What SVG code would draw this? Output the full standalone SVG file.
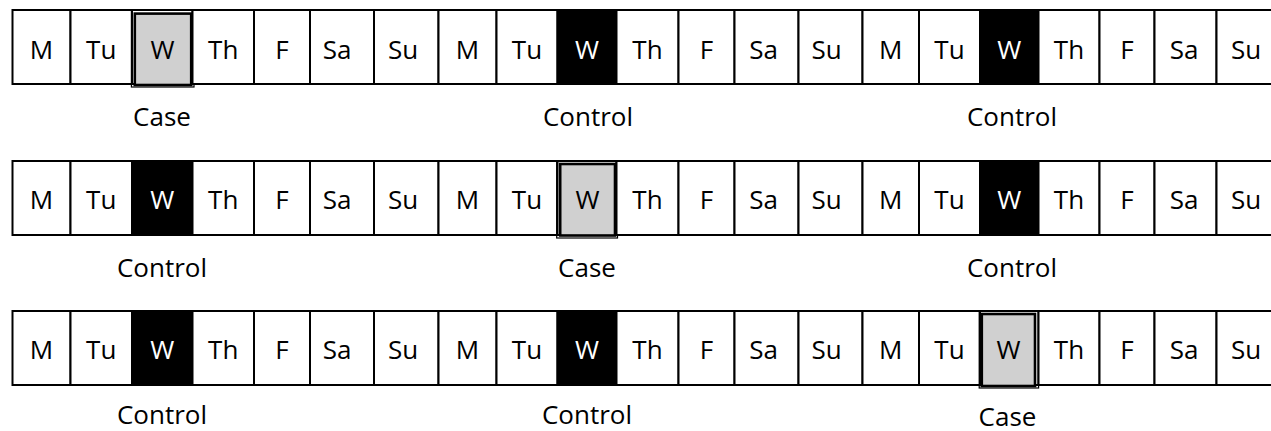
<svg xmlns="http://www.w3.org/2000/svg" width="1271" height="431" viewBox="0 0 1271 431">
<style>
.c{fill:#fff;stroke:#000;stroke-width:2}
.k{fill:#000;stroke:#000;stroke-width:2}
.co{fill:none;stroke:#000;stroke-width:1.2}
.ci{fill:#d0d0d0;stroke:#000;stroke-width:2.6}
text{font-family:"Open Sans","Liberation Sans",sans-serif;font-size:26px;text-anchor:middle;fill:#000}
text.w{fill:#fff}
</style>
<rect width="1271" height="431" fill="#fff"/>
<g id="row1">
<g id="r1c0"><rect class="c" x="12.5" y="10" width="58" height="74"/><text x="41.5" y="58.5">M</text></g>
<g id="r1c1"><rect class="c" x="70.5" y="10" width="61.5" height="74"/><text x="101.25" y="58.5">Tu</text></g>
<g id="r1c2"><rect class="c" x="132" y="10" width="60.5" height="74"/><rect class="co" x="131.4" y="10" width="62.6" height="77"/><rect class="ci" x="134.8" y="13.6" width="56.4" height="71.4"/><text x="162.5" y="58.5">W</text></g>
<g id="r1c3"><rect class="c" x="192.5" y="10" width="61.5" height="74"/><text x="223.25" y="58.5">Th</text></g>
<g id="r1c4"><rect class="c" x="254" y="10" width="56" height="74"/><text x="282" y="58.5">F</text></g>
<g id="r1c5"><rect class="c" x="310" y="10" width="64" height="74"/><text x="337" y="58.5">Sa</text></g>
<g id="r1c6"><rect class="c" x="374" y="10" width="64.5" height="74"/><text x="403" y="58.5">Su</text></g>
<g id="r1c7"><rect class="c" x="438.5" y="10" width="58" height="74"/><text x="467.5" y="58.5">M</text></g>
<g id="r1c8"><rect class="c" x="496.5" y="10" width="61" height="74"/><text x="527" y="58.5">Tu</text></g>
<g id="r1c9"><rect class="k" x="557.5" y="10" width="59" height="74"/><text class="w" x="587" y="58.5">W</text></g>
<g id="r1c10"><rect class="c" x="616.5" y="10" width="62" height="74"/><text x="647.5" y="58.5">Th</text></g>
<g id="r1c11"><rect class="c" x="678.5" y="10" width="56" height="74"/><text x="706.5" y="58.5">F</text></g>
<g id="r1c12"><rect class="c" x="734.5" y="10" width="64" height="74"/><text x="763.5" y="58.5">Sa</text></g>
<g id="r1c13"><rect class="c" x="798.5" y="10" width="64" height="74"/><text x="826.5" y="58.5">Su</text></g>
<g id="r1c14"><rect class="c" x="862.5" y="10" width="56.5" height="74"/><text x="890.75" y="58.5">M</text></g>
<g id="r1c15"><rect class="c" x="919" y="10" width="61" height="74"/><text x="949.5" y="58.5">Tu</text></g>
<g id="r1c16"><rect class="k" x="980" y="10" width="58.5" height="74"/><text class="w" x="1009.25" y="58.5">W</text></g>
<g id="r1c17"><rect class="c" x="1038.5" y="10" width="61" height="74"/><text x="1069" y="58.5">Th</text></g>
<g id="r1c18"><rect class="c" x="1099.5" y="10" width="55" height="74"/><text x="1127" y="58.5">F</text></g>
<g id="r1c19"><rect class="c" x="1154.5" y="10" width="62" height="74"/><text x="1184" y="58.5">Sa</text></g>
<g id="r1c20"><rect class="c" x="1216.5" y="10" width="64.5" height="74"/><text x="1246" y="58.5">Su</text></g>
<g id="r1labels"><text x="162" y="126">Case</text><text x="588" y="126">Control</text><text x="1012" y="126">Control</text></g>
</g>
<g id="row2">
<g id="r2c0"><rect class="c" x="12.5" y="161" width="58" height="74"/><text x="41.5" y="209">M</text></g>
<g id="r2c1"><rect class="c" x="70.5" y="161" width="61.5" height="74"/><text x="101.25" y="209">Tu</text></g>
<g id="r2c2"><rect class="k" x="132" y="161" width="60.5" height="74"/><text class="w" x="162.25" y="209">W</text></g>
<g id="r2c3"><rect class="c" x="192.5" y="161" width="61.5" height="74"/><text x="223.25" y="209">Th</text></g>
<g id="r2c4"><rect class="c" x="254" y="161" width="56" height="74"/><text x="282" y="209">F</text></g>
<g id="r2c5"><rect class="c" x="310" y="161" width="64" height="74"/><text x="337" y="209">Sa</text></g>
<g id="r2c6"><rect class="c" x="374" y="161" width="64.5" height="74"/><text x="403" y="209">Su</text></g>
<g id="r2c7"><rect class="c" x="438.5" y="161" width="58" height="74"/><text x="467.5" y="209">M</text></g>
<g id="r2c8"><rect class="c" x="496.5" y="161" width="61" height="74"/><text x="527" y="209">Tu</text></g>
<g id="r2c9"><rect class="c" x="557.5" y="161" width="59" height="74"/><rect class="co" x="556.7" y="161" width="60.8" height="77"/><rect class="ci" x="560.2" y="164" width="54.8" height="71.5"/><text x="587.5" y="209">W</text></g>
<g id="r2c10"><rect class="c" x="616.5" y="161" width="62" height="74"/><text x="647.5" y="209">Th</text></g>
<g id="r2c11"><rect class="c" x="678.5" y="161" width="56" height="74"/><text x="706.5" y="209">F</text></g>
<g id="r2c12"><rect class="c" x="734.5" y="161" width="64" height="74"/><text x="763.5" y="209">Sa</text></g>
<g id="r2c13"><rect class="c" x="798.5" y="161" width="64" height="74"/><text x="826.5" y="209">Su</text></g>
<g id="r2c14"><rect class="c" x="862.5" y="161" width="56.5" height="74"/><text x="890.75" y="209">M</text></g>
<g id="r2c15"><rect class="c" x="919" y="161" width="61" height="74"/><text x="949.5" y="209">Tu</text></g>
<g id="r2c16"><rect class="k" x="980" y="161" width="58.5" height="74"/><text class="w" x="1009.25" y="209">W</text></g>
<g id="r2c17"><rect class="c" x="1038.5" y="161" width="61" height="74"/><text x="1069" y="209">Th</text></g>
<g id="r2c18"><rect class="c" x="1099.5" y="161" width="55" height="74"/><text x="1127" y="209">F</text></g>
<g id="r2c19"><rect class="c" x="1154.5" y="161" width="62" height="74"/><text x="1184" y="209">Sa</text></g>
<g id="r2c20"><rect class="c" x="1216.5" y="161" width="64.5" height="74"/><text x="1246" y="209">Su</text></g>
<g id="r2labels"><text x="162" y="277">Control</text><text x="587" y="277">Case</text><text x="1012" y="277">Control</text></g>
</g>
<g id="row3">
<g id="r3c0"><rect class="c" x="12.5" y="311" width="58" height="74"/><text x="41.5" y="359">M</text></g>
<g id="r3c1"><rect class="c" x="70.5" y="311" width="61.5" height="74"/><text x="101.25" y="359">Tu</text></g>
<g id="r3c2"><rect class="k" x="132" y="311" width="60.5" height="74"/><text class="w" x="162.25" y="359">W</text></g>
<g id="r3c3"><rect class="c" x="192.5" y="311" width="61.5" height="74"/><text x="223.25" y="359">Th</text></g>
<g id="r3c4"><rect class="c" x="254" y="311" width="56" height="74"/><text x="282" y="359">F</text></g>
<g id="r3c5"><rect class="c" x="310" y="311" width="64" height="74"/><text x="337" y="359">Sa</text></g>
<g id="r3c6"><rect class="c" x="374" y="311" width="64.5" height="74"/><text x="403" y="359">Su</text></g>
<g id="r3c7"><rect class="c" x="438.5" y="311" width="58" height="74"/><text x="467.5" y="359">M</text></g>
<g id="r3c8"><rect class="c" x="496.5" y="311" width="61" height="74"/><text x="527" y="359">Tu</text></g>
<g id="r3c9"><rect class="k" x="557.5" y="311" width="59" height="74"/><text class="w" x="587" y="359">W</text></g>
<g id="r3c10"><rect class="c" x="616.5" y="311" width="62" height="74"/><text x="647.5" y="359">Th</text></g>
<g id="r3c11"><rect class="c" x="678.5" y="311" width="56" height="74"/><text x="706.5" y="359">F</text></g>
<g id="r3c12"><rect class="c" x="734.5" y="311" width="64" height="74"/><text x="763.5" y="359">Sa</text></g>
<g id="r3c13"><rect class="c" x="798.5" y="311" width="64" height="74"/><text x="826.5" y="359">Su</text></g>
<g id="r3c14"><rect class="c" x="862.5" y="311" width="56.5" height="74"/><text x="890.75" y="359">M</text></g>
<g id="r3c15"><rect class="c" x="919" y="311" width="61" height="74"/><text x="949.5" y="359">Tu</text></g>
<g id="r3c16"><rect class="c" x="980" y="311" width="58.5" height="74"/><rect class="co" x="979.2" y="311" width="59.4" height="77"/><rect class="ci" x="981.8" y="314" width="53.2" height="72"/><text x="1008.5" y="359">W</text></g>
<g id="r3c17"><rect class="c" x="1038.5" y="311" width="61" height="74"/><text x="1069" y="359">Th</text></g>
<g id="r3c18"><rect class="c" x="1099.5" y="311" width="55" height="74"/><text x="1127" y="359">F</text></g>
<g id="r3c19"><rect class="c" x="1154.5" y="311" width="62" height="74"/><text x="1184" y="359">Sa</text></g>
<g id="r3c20"><rect class="c" x="1216.5" y="311" width="64.5" height="74"/><text x="1246" y="359">Su</text></g>
<g id="r3labels"><text x="162" y="424">Control</text><text x="587" y="424">Control</text><text x="1007.5" y="425.5">Case</text></g>
</g>
</svg>
